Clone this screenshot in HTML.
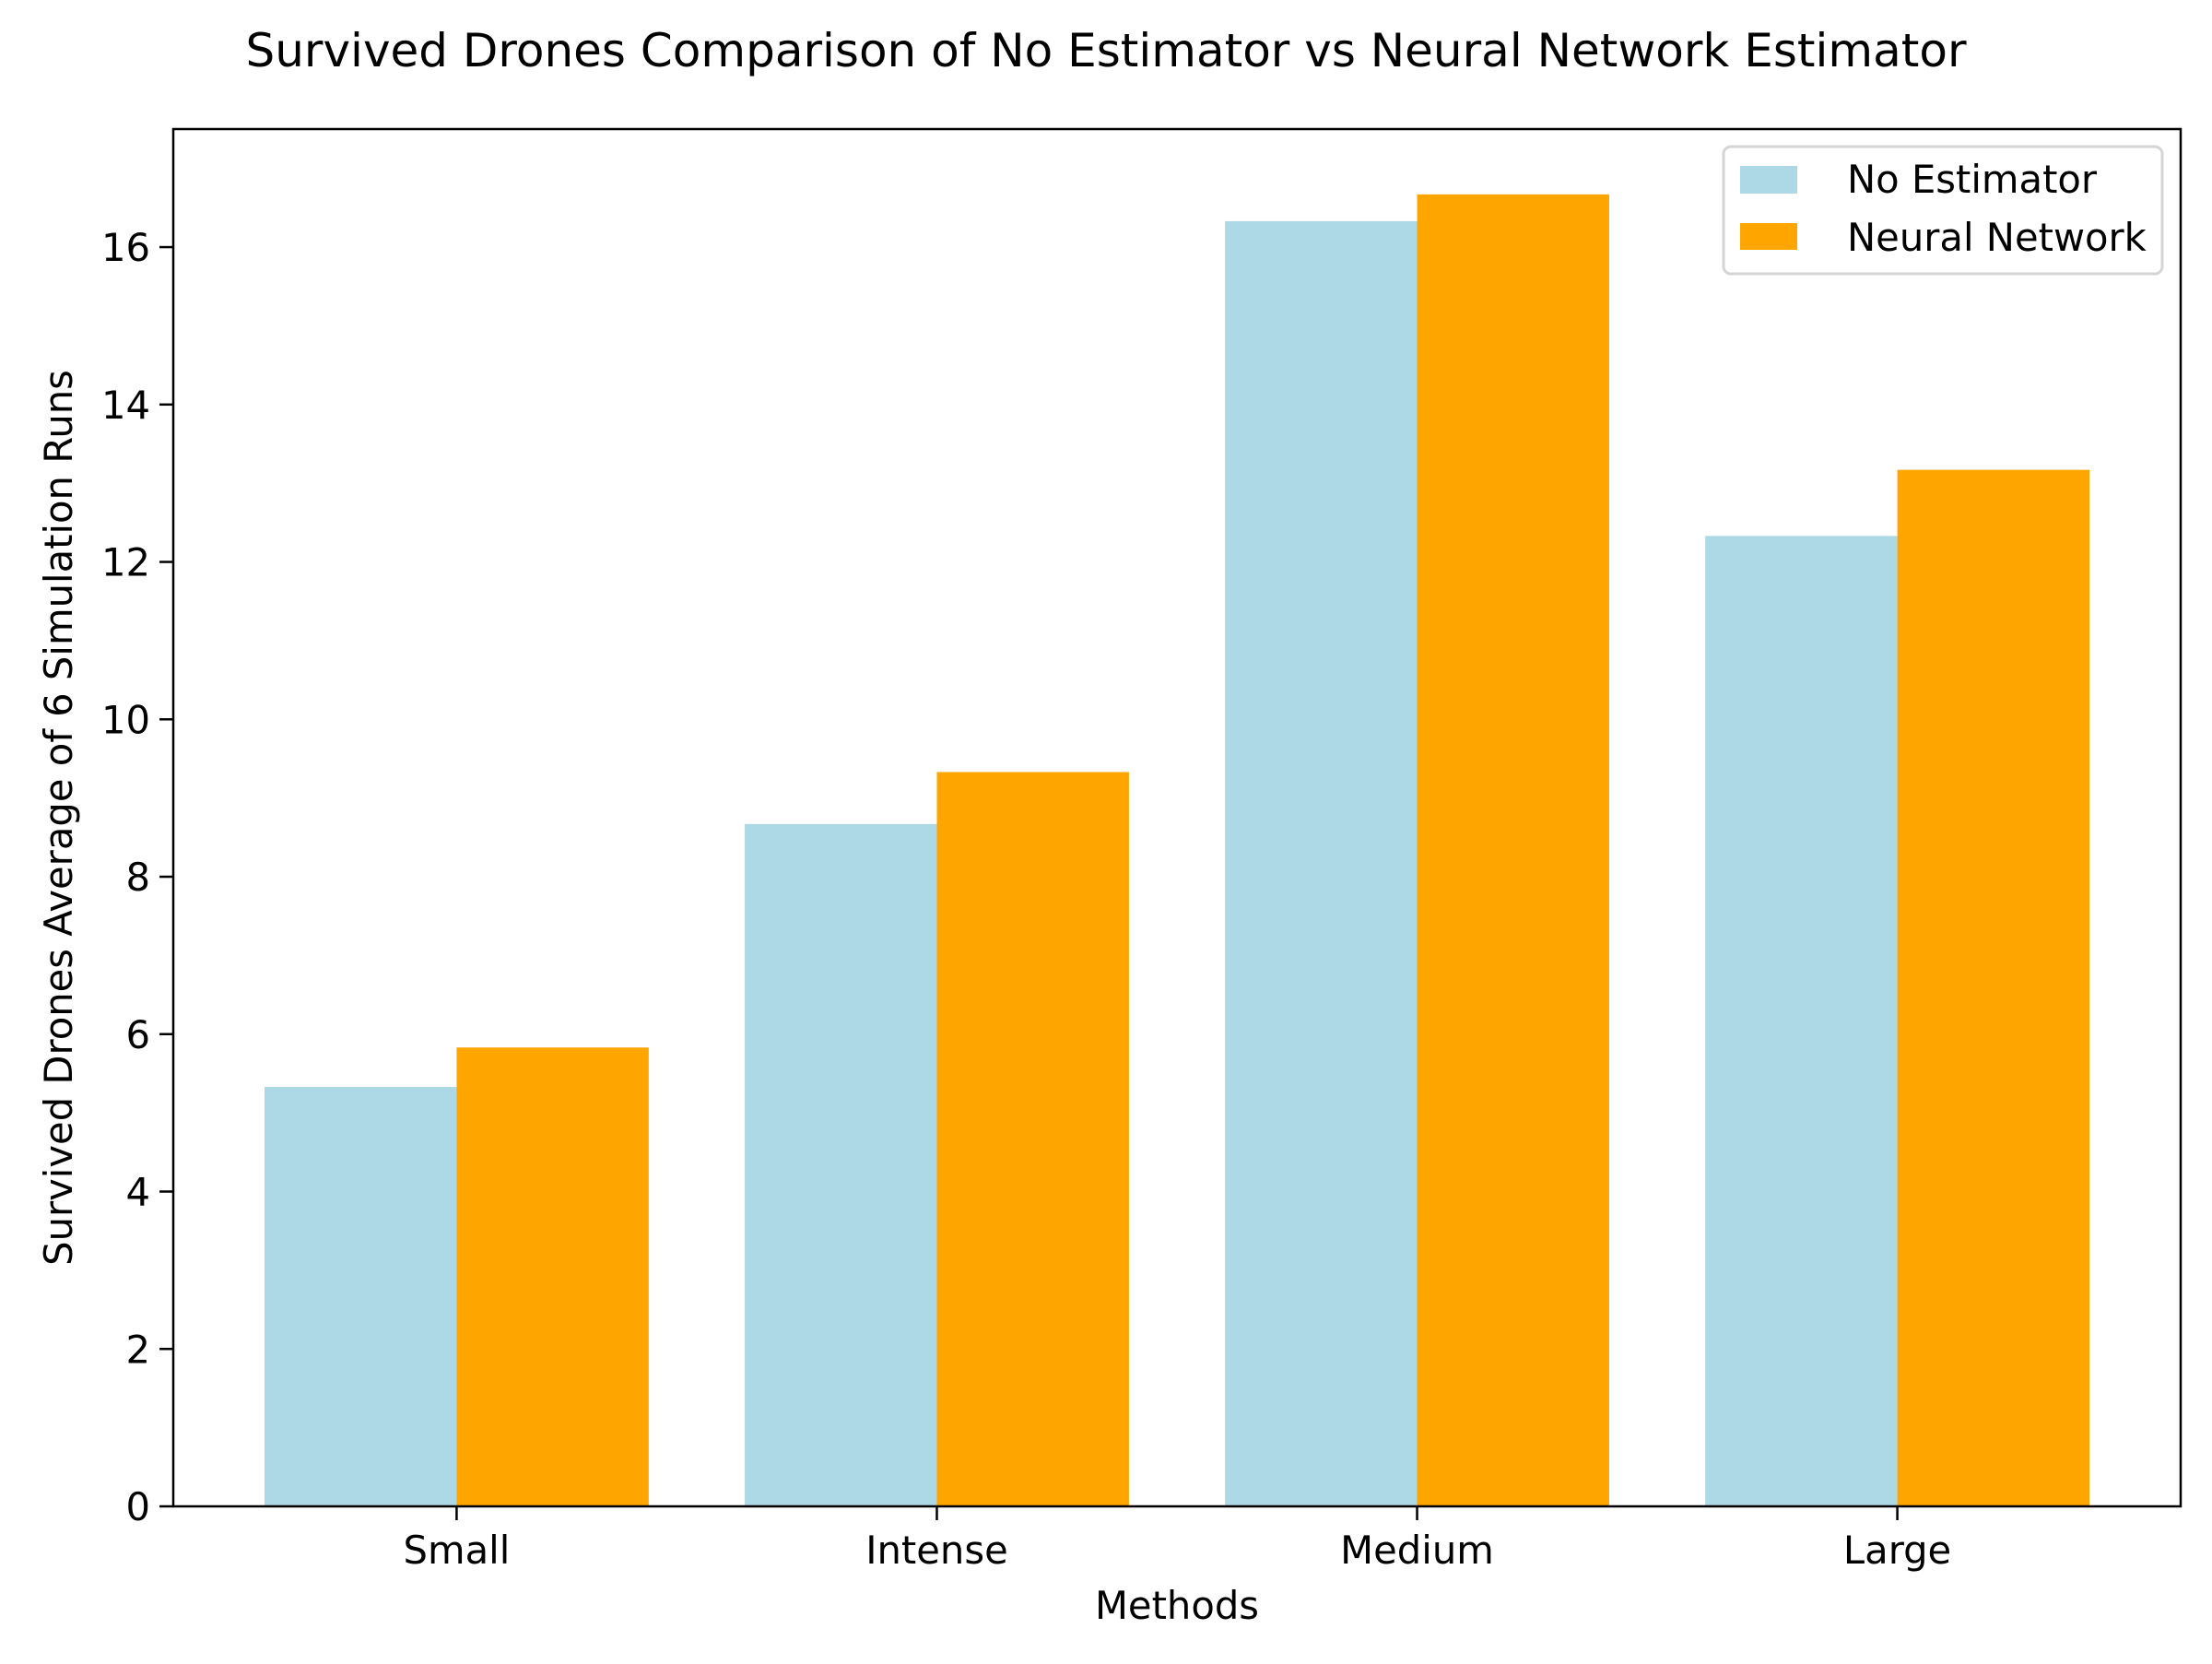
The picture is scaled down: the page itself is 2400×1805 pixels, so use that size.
<!DOCTYPE html>
<html><head><meta charset="utf-8"><style>
body{margin:0;background:#fff}
svg text{font-family:"DejaVu Sans","Liberation Sans",sans-serif;fill:#000}
</style></head><body>
<svg id="chart" width="2400" height="1800" viewBox="0 0 2400 1800" xmlns="http://www.w3.org/2000/svg">
<rect width="2400" height="1800" fill="#fff"/>
<text x="1200" y="72" font-size="50" text-anchor="middle">Survived Drones Comparison of No Estimator vs Neural Network Estimator</text>
<g id="bars"></g>
<g id="axes"></g>
<text x="1277" y="1756" font-size="41.7" text-anchor="middle">Methods</text>
<text transform="translate(78,887) rotate(-90)" font-size="41.7" text-anchor="middle">Survived Drones Average of 6 Simulation Runs</text>
<g>
<rect x="1870" y="159" width="476" height="138" rx="8" fill="#fff" stroke="#d5d5d5" stroke-width="3"/>
<rect x="1888" y="180" width="62" height="30" fill="#add8e6"/>
<text x="2004" y="209" font-size="41.7">No Estimator</text>
<rect x="1888" y="242" width="62" height="29" fill="#ffa500"/>
<text x="2004" y="272" font-size="41.7">Neural Network</text>
</g>
</svg>
<script>
const categories = ["Small","Intense","Medium","Large"];
const noEstimator = [5.33, 8.67, 16.33, 12.33];
const neuralNetwork = [5.83, 9.33, 16.67, 13.17];
const yTicks = [0,2,4,6,8,10,12,14,16];
const L=188,R=2366,T=140,B=1634,xmin=-0.59,xmax=3.59,ymax=17.5;
const NS="http://www.w3.org/2000/svg";
const xs=v=>L+(v-xmin)/(xmax-xmin)*(R-L);
const ys=v=>B-v/ymax*(B-T);
const bars=document.getElementById('bars'), axes=document.getElementById('axes');
function mk(tag,attrs,parent){const e=document.createElementNS(NS,tag);for(const k in attrs)e.setAttribute(k,attrs[k]);parent.appendChild(e);return e;}
categories.forEach((c,i)=>{
  const a=mk('rect',{x:xs(i-0.4),y:ys(noEstimator[i]),width:xs(i)-xs(i-0.4),height:B-ys(noEstimator[i]),fill:'#add8e6'},bars);
  
  
  const b=mk('rect',{x:xs(i),y:ys(neuralNetwork[i]),width:xs(i+0.4)-xs(i),height:B-ys(neuralNetwork[i]),fill:'#ffa500'},bars);
  
  
  const t=mk('line',{x1:xs(i),x2:xs(i),y1:B,y2:B+15,stroke:'#000','stroke-width':2.5},axes);
  
  
  const l=mk('text',{x:xs(i),y:B+62,'font-size':41.7,'text-anchor':'middle'},axes);
  l.textContent=c;
  
  
});
yTicks.forEach(v=>{
  const t=mk('line',{x1:L-15,x2:L,y1:ys(v),y2:ys(v),stroke:'#000','stroke-width':2.5},axes);
  
  
  const l=mk('text',{x:L-25,y:ys(v)+15,'font-size':41.7,'text-anchor':'end'},axes);
  l.textContent=v;
  
  
});
const f=mk('rect',{x:L,y:T,width:R-L,height:B-T,fill:'none',stroke:'#000','stroke-width':2.5},axes);


</script>
</body></html>
